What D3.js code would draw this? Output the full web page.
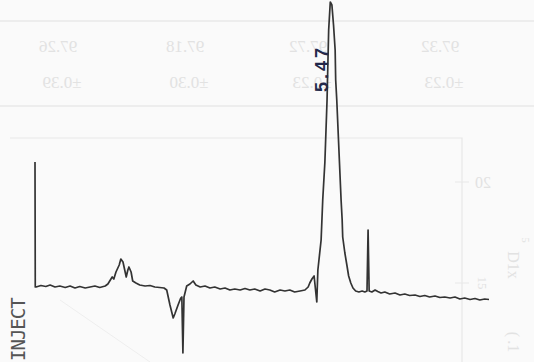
<!DOCTYPE html>
<html>
<head>
<meta charset="utf-8">
<script src="https://cdn.jsdelivr.net/npm/d3@7"></script>
<style>
  html, body { margin: 0; padding: 0; background: #fafafa; }
  svg { display: block; }
</style>
</head>
<body>
<figure id="chrom" style="margin:0"></figure>
<script>
// retention time (min) after injection
const times = [
  0, 0.005, 0.02, 0.11, 0.20, 0.28, 0.37, 0.46, 0.56, 0.65, 0.74, 0.83, 0.93, 1.02, 1.11, 1.20, 1.30, 1.35,
  1.43, 1.46, 1.50, 1.56, 1.59, 1.63, 1.67, 1.69, 1.72, 1.74, 1.78, 1.81, 1.87, 1.94,
  2.04, 2.13, 2.22, 2.31, 2.39, 2.44, 2.50, 2.56, 2.59, 2.65, 2.70, 2.72, 2.74, 2.76, 2.81, 2.87, 2.93, 2.98,
  3.06, 3.15, 3.24, 3.33, 3.43, 3.52, 3.61, 3.70, 3.80, 3.89, 3.98, 4.07, 4.17, 4.26, 4.35, 4.44, 4.54, 4.63,
  4.72, 4.81, 4.91, 5.00, 5.06, 5.09, 5.13, 5.17, 5.22, 5.24, 5.26, 5.30, 5.33, 5.37, 5.41, 5.44, 5.47,
  5.50, 5.53, 5.56, 5.57, 5.59, 5.61, 5.63, 5.65, 5.67, 5.69, 5.70, 5.74, 5.78, 5.81, 5.85, 5.89, 5.94,
  6.00, 6.06, 6.11, 6.15, 6.17, 6.19, 6.24, 6.30, 6.35, 6.41, 6.48, 6.57, 6.67, 6.76, 6.85, 6.94,
  7.04, 7.13, 7.22, 7.31, 7.41, 7.50, 7.59, 7.69, 7.78, 7.87, 7.96, 8.06, 8.15, 8.24, 8.33, 8.41
];
// detector signal (arbitrary units)
const signal = [
  125, 0, 0, 1.5, 0.5, 2, 0, 1, -0.5, 1, -1, 0.5, -1, 0, 1, -0.5, 1, 3,
  10, 8, 15, 22, 28, 25, 15, 10, 17, 20, 15, 6, 4, 2,
  1, 1.5, 0, -0.5, -1, -3, -18, -31, -27, -18, -11, -10, -66, -10, 1, 3, 6, 2,
  0, 1, -1, 0, -2, -1, -3, -2, -3, -1.5, -3, -2, -4, -2, -3, -5, -3, -4,
  -3, -5, -4, -3, 0, 4, 8, 11, -15, 17, 27, 47, 87, 125, 187, 257, 285,
  282, 262, 237, 207, 187, 162, 137, 112, 87, 67, 50, 34, 21, 11, 4, -1, -4,
  -5, -4, -5, -4, 57, -4, -5, -3, -4.5, -6, -5, -7, -6, -8, -7, -8.5,
  -8, -9.5, -8.5, -10, -9, -10.5, -10, -11, -10, -12, -11, -12.5, -11.5, -13, -12, -12.5
];
const peakLabel = { time: 5.47, text: "5.47" };

// faint print-through from the other side of the sheet
const ghostCols = [58, 185, 308, 440];
const ghostMeans = ["97.26", "97.18", "97.72", "97.32"];
const ghostSds = ["±0.39", "±0.30", "±0.23", "±0.23"];
const ghostTicks = ["20", "15"];

const width = 534, height = 362;
const trace = times.map((t, i) => ({ t: t, s: signal[i] }));

const svg = d3.select("figure#chrom")
  .append("svg")
  .attr("width", width)
  .attr("height", height);

const x = d3.scaleLinear().domain([0, 8.41]).range([35, 489]);
const y = d3.scaleLinear().domain([-70, 290]).range([357, -3]);

// ghost table
const ghost = svg.append("g").attr("fill", "#e2e2e2").attr("stroke", "#e8e8e8");
ghost.append("line").attr("x1", 0).attr("x2", width).attr("y1", 21).attr("y2", 21).attr("stroke-width", 1.5);
ghost.append("line").attr("x1", 0).attr("x2", width).attr("y1", 106).attr("y2", 106).attr("stroke-width", 1.5);
ghost.selectAll("text.mean")
  .data(ghostMeans)
  .enter()
  .append("text")
  .attr("class", "mean")
  .attr("transform", (d, i) => "translate(" + ghostCols[i] + ",52) scale(-1,1)")
  .attr("text-anchor", "middle")
  .attr("stroke", "none")
  .style("font", "17px 'Liberation Serif'")
  .text(d => d);
ghost.selectAll("text.sd")
  .data(ghostSds)
  .enter()
  .append("text")
  .attr("class", "sd")
  .attr("transform", (d, i) => "translate(" + (ghostCols[i] + 4) + ",88) scale(-1,1)")
  .attr("text-anchor", "middle")
  .attr("stroke", "none")
  .style("font", "17px 'Liberation Serif'")
  .text(d => d);

// ghost frame and axis
ghost.append("path").attr("fill", "none").attr("stroke-width", 1.2)
  .attr("d", "M10,138H462V362");
ghost.append("line").attr("x1", 455).attr("x2", 469).attr("y1", 182).attr("y2", 182);
ghost.append("line").attr("x1", 455).attr("x2", 469).attr("y1", 283).attr("y2", 283);
ghost.append("text").attr("stroke", "none")
  .attr("transform", "translate(483,188) scale(-1,1)")
  .attr("text-anchor", "middle")
  .style("font", "16px 'Liberation Serif'")
  .text(ghostTicks[0]);
ghost.append("text").attr("stroke", "none")
  .attr("transform", "translate(478,283) rotate(90)")
  .attr("text-anchor", "middle")
  .style("font", "13px 'Liberation Serif'")
  .text(ghostTicks[1]);
ghost.append("text").attr("stroke", "none")
  .attr("transform", "translate(508,265) rotate(90)")
  .attr("text-anchor", "middle")
  .style("font", "16px 'Liberation Serif'")
  .text("D1x");
ghost.append("text").attr("stroke", "none")
  .attr("transform", "translate(522,240) rotate(90)")
  .attr("text-anchor", "middle")
  .style("font", "11px 'Liberation Serif'")
  .text("5");
ghost.append("text").attr("stroke", "none")
  .attr("transform", "translate(508,342) rotate(90)")
  .attr("text-anchor", "middle")
  .style("font", "16px 'Liberation Serif'")
  .text("(\u2009.1");
ghost.append("line").attr("x1", 60).attr("y1", 300).attr("x2", 150).attr("y2", 362).attr("stroke", "#eeeeee");

// chromatogram trace
const line = d3.line()
  .x(d => x(d.t))
  .y(d => y(d.s));

svg.append("path")
  .datum(trace)
  .attr("fill", "none")
  .attr("stroke", "#333")
  .attr("stroke-width", 1.7)
  .attr("stroke-linejoin", "round")
  .attr("d", line);

// retention time written on the peak
svg.append("text")
  .attr("transform", "translate(" + (x(peakLabel.time) - 2) + "," + 92 + ") rotate(-90)")
  .attr("fill", "#23284a")
  .style("font", "bold 18px 'Liberation Sans'")
  .style("letter-spacing", "3px")
  .text(peakLabel.text);

// injection mark
svg.append("text")
  .attr("transform", "translate(25,361) rotate(-90)")
  .attr("fill", "#555")
  .style("font", "19px 'DejaVu Sans Mono'")
  .style("letter-spacing", "-1px")
  .text("INJECT");
</script>
</body>
</html>
